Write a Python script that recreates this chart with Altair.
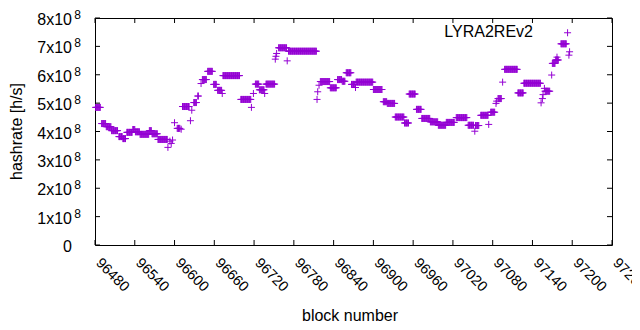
import altair as alt
import pandas as pd

# runs of consecutive blocks sharing one hashrate estimate (value in units of 1e8 h/s)
run_start = [96481, 96490, 96497, 96505, 96516, 96522, 96528, 96537, 96541, 96548,
             96562, 96566, 96575, 96590, 96593, 96595, 96597, 96600, 96604, 96610,
             96612, 96624, 96626, 96629, 96635, 96640, 96642, 96650, 96659, 96665,
             96672, 96673, 96700, 96716, 96719, 96722, 96728, 96736, 96738, 96752,
             96753, 96754, 96757, 96770, 96772, 96815, 96816, 96818, 96820, 96835,
             96846, 96853, 96859, 96867, 96873, 96874, 96900, 96915, 96921, 96933,
             96947, 96954, 96965, 96973, 96986, 96998, 97010, 97025, 97043, 97053,
             97054, 97062, 97074, 97077, 97085, 97086, 97088, 97095, 97098, 97118,
             97127, 97153, 97155, 97156, 97158, 97159, 97169, 97170, 97175, 97177,
             97183, 97193, 97195, 97196]
run_end = [96488, 96496, 96504, 96514, 96521, 96526, 96536, 96540, 96547, 96561,
           96565, 96574, 96589, 96590, 96593, 96595, 96597, 96600, 96608, 96610,
           96622, 96624, 96626, 96633, 96636, 96640, 96648, 96657, 96663, 96671,
           96672, 96698, 96715, 96716, 96719, 96727, 96735, 96736, 96751, 96752,
           96753, 96754, 96769, 96770, 96814, 96815, 96816, 96818, 96834, 96844,
           96852, 96857, 96866, 96872, 96873, 96899, 96913, 96920, 96932, 96946,
           96953, 96963, 96972, 96985, 96997, 97009, 97022, 97041, 97051, 97053,
           97059, 97073, 97074, 97083, 97085, 97086, 97093, 97095, 97117, 97126,
           97152, 97153, 97155, 97156, 97158, 97166, 97169, 97174, 97179, 97177,
           97191, 97193, 97195, 97196]
run_value = [4.85, 4.28, 4.17, 4.03, 3.82, 3.75, 3.97, 4.07, 3.99, 3.90,
             4.03, 3.92, 3.72, 3.44, 3.66, 3.58, 3.70, 4.31, 4.11, 4.08,
             4.88, 4.38, 4.75, 5.02, 5.25, 5.69, 5.83, 6.12, 5.66, 5.45,
             5.34, 5.97, 5.13, 4.85, 5.34, 5.67, 5.47, 5.34, 5.67, 6.55,
             6.65, 6.75, 6.95, 6.49, 6.83, 5.13, 5.40, 5.63, 5.76, 5.54,
             5.83, 5.77, 6.07, 5.66, 5.55, 5.74, 5.48, 5.05, 4.99, 4.51,
             4.30, 5.32, 4.78, 4.46, 4.34, 4.22, 4.32, 4.49, 4.22, 4.01,
             4.21, 4.57, 4.25, 4.68, 4.99, 5.07, 5.16, 5.74, 6.19, 5.36,
             5.70, 5.01, 5.16, 5.30, 5.52, 5.42, 5.99, 6.40, 6.52, 6.62,
             7.09, 7.48, 6.69, 6.81]

x_ticks = [96480, 96540, 96600, 96660, 96720, 96780, 96840, 96900, 96960,
           97020, 97080, 97140, 97200, 97260]
x_tick_labels = ["96480", "96540", "96600", "96660", "96720", "96780", "96840",
                 "96900", "96960", "97020", "97080", "97140", "97200", "97260"]
y_ticks = [0, 1e8, 2e8, 3e8, 4e8, 5e8, 6e8, 7e8, 8e8]
y_tick_labels = ["0", "1x10", "2x10", "3x10", "4x10", "5x10", "6x10", "7x10", "8x10"]
y_tick_exp = ["", "8", "8", "8", "8", "8", "8", "8", "8"]
series_label = ["LYRA2REv2"]
x_title = ["block number"]
y_title = ["hashrate [h/s]"]

rows = []
for s, e, v in zip(run_start, run_end, run_value):
    for b in range(s, e + 1):
        rows.append({"block": b, "hashrate": v * 1e8})
df = pd.DataFrame(rows)

W, H = 517, 227
FONT = "Liberation Sans"
COLOR = "#9400d3"

xs = alt.Scale(domain=[96480, 97260], nice=False, zero=False)
ys = alt.Scale(domain=[0, 8e8], nice=False, zero=True)

points = alt.Chart(df).mark_point(
    shape="M-1,0L1,0M0,-1L0,1", filled=False, size=49, strokeWidth=1,
    color=COLOR, opacity=1
).encode(
    x=alt.X("block:Q", scale=xs, axis=None),
    y=alt.Y("hashrate:Q", scale=ys, axis=None),
)

xt = pd.DataFrame({"block": x_ticks, "lab": x_tick_labels})
yt = pd.DataFrame({"hashrate": y_ticks, "lab": y_tick_labels, "exp": y_tick_exp})

tick_bottom = alt.Chart(xt).mark_rule(color="black", strokeWidth=1).encode(
    x=alt.X("block:Q", scale=xs, axis=None), y=alt.value(H), y2=alt.value(H - 5))
tick_top = alt.Chart(xt).mark_rule(color="black", strokeWidth=1).encode(
    x=alt.X("block:Q", scale=xs, axis=None), y=alt.value(0), y2=alt.value(5))
tick_left = alt.Chart(yt).mark_rule(color="black", strokeWidth=1).encode(
    y=alt.Y("hashrate:Q", scale=ys, axis=None), x=alt.value(0), x2=alt.value(5))
tick_right = alt.Chart(yt).mark_rule(color="black", strokeWidth=1).encode(
    y=alt.Y("hashrate:Q", scale=ys, axis=None), x=alt.value(W - 5), x2=alt.value(W))

x_labels = alt.Chart(xt).mark_text(
    font=FONT, fontSize=14.5, color="black", angle=45, align="left",
    baseline="middle", xOffset=3
).encode(x=alt.X("block:Q", scale=xs, axis=None), y=alt.value(H + 16), text="lab:N")

y_labels = alt.Chart(yt).mark_text(
    font=FONT, fontSize=16, color="black", align="right", baseline="middle", dy=2
).encode(y=alt.Y("hashrate:Q", scale=ys, axis=None), x=alt.value(-23), text="lab:N")

y_sup = alt.Chart(yt).mark_text(
    font=FONT, fontSize=12, color="black", align="center", baseline="middle", dy=-3
).encode(y=alt.Y("hashrate:Q", scale=ys, axis=None), x=alt.value(-17.5), text="exp:N")

x_title_t = alt.Chart(pd.DataFrame({"t": x_title})).mark_text(
    font=FONT, fontSize=16, color="black", align="center", baseline="alphabetic"
).encode(x=alt.value(255), y=alt.value(H + 76), text="t:N")

y_title_t = alt.Chart(pd.DataFrame({"t": y_title})).mark_text(
    font=FONT, fontSize=16, color="black", align="center", baseline="middle", angle=270
).encode(x=alt.value(-78), y=alt.value(H / 2), text="t:N")

label = alt.Chart(pd.DataFrame({"t": series_label})).mark_text(
    font=FONT, fontSize=16, color="black", align="right", baseline="alphabetic"
).encode(x=alt.value(438), y=alt.value(19), text="t:N")

chart = alt.layer(points, tick_bottom, tick_top, tick_left, tick_right,
                  x_labels, y_labels, y_sup, x_title_t, y_title_t, label).properties(
    width=W, height=H,
    autosize=alt.AutoSizeParams(type="none"),
    padding={"left": 87, "top": 10, "right": 20, "bottom": 80},
).configure_view(stroke="black", strokeWidth=1)

chart.save("out.html", embed_options={"renderer": "svg", "actions": False})
